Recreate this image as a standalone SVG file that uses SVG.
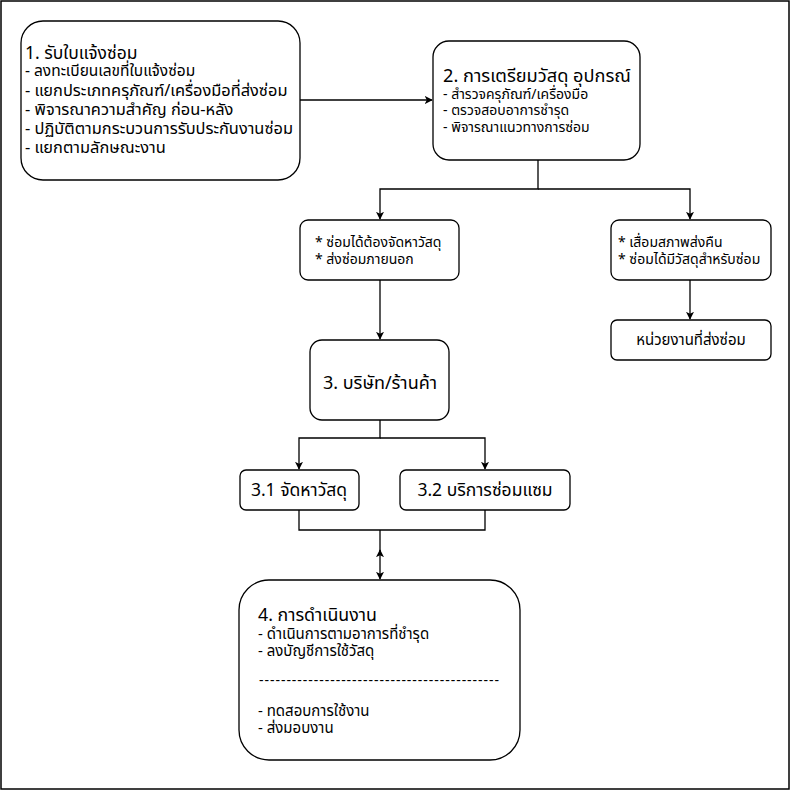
<svg xmlns="http://www.w3.org/2000/svg" width="791" height="791" viewBox="0 0 791 791">
<defs>
<marker id="ah" viewBox="0 0 10 10" refX="9" refY="5" markerWidth="8" markerHeight="8" markerUnits="userSpaceOnUse" orient="auto-start-reverse">
<path d="M0,0 L10,5 L0,10 L2.5,5 Z" fill="#000"/>
</marker>
<style>
text{font-family:"Noto Sans","Noto Sans Thai","Noto Sans Thai UI","Tahoma",sans-serif;fill:#000}
.box{fill:#fff;stroke:#000;stroke-width:1.3}
.t{font-size:17.5px}
.s{font-size:14px}
.m{font-size:15px}
.b{font-size:16.4px}
.c{text-anchor:middle}
.ln{fill:none;stroke:#000;stroke-width:1.3}
</style>
</defs>
<rect x="0" y="0" width="791" height="791" fill="#fff"/>
<rect x="1" y="1" width="788" height="788" fill="none" stroke="#000" stroke-width="1.5"/>

<g id="connectors">
<path class="ln" d="M300,100 H432" marker-end="url(#ah)"/>
<path class="ln" d="M538,160 V189 H380 V219" marker-end="url(#ah)"/>
<path class="ln" d="M538,189 H690 V219" marker-end="url(#ah)"/>
<path class="ln" d="M690,280 V319" marker-end="url(#ah)"/>
<path class="ln" d="M380,280 V339" marker-end="url(#ah)"/>
<path class="ln" d="M380,420 V438 H299 V469" marker-end="url(#ah)"/>
<path class="ln" d="M380,438 H485 V469" marker-end="url(#ah)"/>
<path class="ln" d="M299,510 V530 H485 V510"/>
<path class="ln" d="M380,552 V530"/>
<path class="ln" d="M380,550 V579" marker-start="url(#ah)" marker-end="url(#ah)"/>
</g>

<g id="n1">
<rect class="box" x="21" y="21" width="279" height="159" rx="22"/>
<text class="t" x="25" y="59">1. รับใบแจ้งซ่อม</text>
<text x="25" y="76" font-size="15.5px">- ลงทะเบียนเลขที่ใบแจ้งซ่อม</text>
<text class="b" x="25" y="96">- แยกประเภทครุภัณฑ์/เครื่องมือที่ส่งซ่อม</text>
<text class="b" x="25" y="114.5">- พิจารณาความสำคัญ ก่อน-หลัง</text>
<text class="b" x="25" y="134">- ปฏิบัติตามกระบวนการรับประกันงานซ่อม</text>
<text class="b" x="25" y="153">- แยกตามลักษณะงาน</text>
</g>

<g id="n2">
<rect class="box" x="433" y="41" width="207" height="119" rx="16"/>
<text x="443" y="82" font-size="18.2px">2. การเตรียมวัสดุ อุปกรณ์</text>
<text class="s" x="443" y="99">- สำรวจครุภัณฑ์/เครื่องมือ</text>
<text class="s" x="443" y="115">- ตรวจสอบอาการชำรุด</text>
<text class="s" x="443" y="132">- พิจารณาแนวทางการซ่อม</text>
</g>

<g id="nA">
<rect class="box" x="300" y="220" width="159" height="60" rx="8"/>
<text class="s" x="315" y="247">* ซ่อมได้ต้องจัดหาวัสดุ</text>
<text class="s" x="315" y="264">* ส่งซ่อมภายนอก</text>
</g>

<g id="nB">
<rect class="box" x="611" y="220" width="160" height="60" rx="8"/>
<text class="s" x="618" y="247">* เสื่อมสภาพส่งคืน</text>
<text class="s" x="618" y="264">* ซ่อมได้มีวัสดุสำหรับซ่อม</text>
</g>

<g id="nC">
<rect class="box" x="611" y="320" width="160" height="40" rx="6"/>
<text class="m c" x="691" y="345">หน่วยงานที่ส่งซ่อม</text>
</g>

<g id="n3">
<rect class="box" x="310" y="340" width="139" height="80" rx="12"/>
<text class="c" x="380" y="389" font-size="18px">3. บริษัท/ร้านค้า</text>
</g>

<g id="n31">
<rect class="box" x="240" y="470" width="119" height="40" rx="6"/>
<text class="t c" x="299" y="496">3.1 จัดหาวัสดุ</text>
</g>

<g id="n32">
<rect class="box" x="400" y="470" width="170" height="40" rx="6"/>
<text class="t c" x="485" y="496">3.2 บริการซ่อมแซม</text>
</g>

<g id="n4">
<rect class="box" x="239" y="580" width="281" height="180" rx="30"/>
<text x="258" y="621" font-size="17.8px">4. การดำเนินงาน</text>
<text class="m" x="258" y="639">- ดำเนินการตามอาการที่ชำรุด</text>
<text class="m" x="258" y="656">- ลงบัญชีการใช้วัสดุ</text>
<text class="s" x="259" y="685" textLength="240" lengthAdjust="spacing">--------------------------------------------</text>
<text class="m" x="258" y="716">- ทดสอบการใช้งาน</text>
<text class="m" x="258" y="733">- ส่งมอบงาน</text>
</g>
</svg>
